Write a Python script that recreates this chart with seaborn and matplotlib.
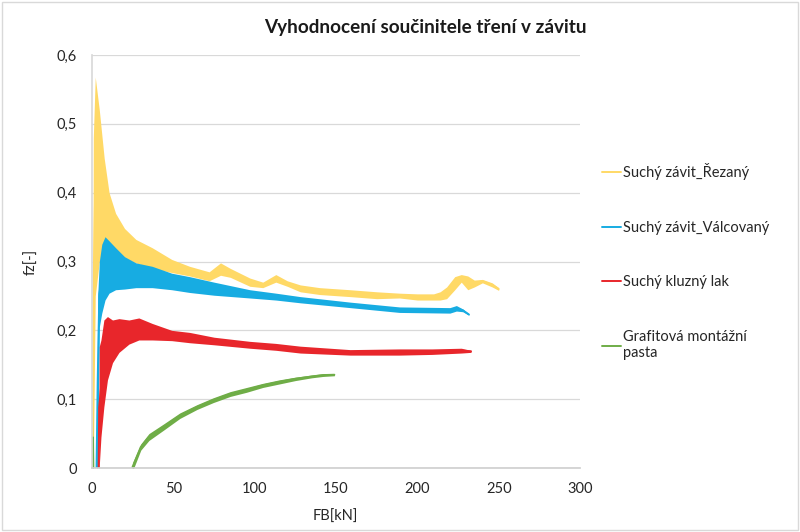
import numpy as np
import pandas as pd
import matplotlib
matplotlib.use("Agg")
from matplotlib import pyplot as plt
from matplotlib.patches import Rectangle
import seaborn as sns

rez_fb = [0.3, 0.8, 2.0, 4.5, 7.5, 10.5, 14.5, 20, 27, 37, 49, 60, 72, 79, 85, 97, 105,
          113, 120, 128, 140, 158.6, 175, 189, 200, 210, 214, 218, 223, 227, 231, 235,
          240, 246, 250]
rez_hi = [0.0, 0.48, 0.568, 0.52, 0.45, 0.40, 0.37, 0.348, 0.332, 0.32, 0.303, 0.293,
          0.285, 0.298, 0.29, 0.276, 0.27, 0.281, 0.272, 0.266, 0.262, 0.259, 0.256,
          0.254, 0.253, 0.253, 0.256, 0.263, 0.278, 0.281, 0.279, 0.273, 0.274, 0.269,
          0.262]
rez_lo = [0.0, 0.0, 0.25, 0.30, 0.31, 0.315, 0.31, 0.305, 0.298, 0.29, 0.284, 0.279,
          0.272, 0.28, 0.277, 0.264, 0.262, 0.27, 0.264, 0.256, 0.252, 0.249, 0.246,
          0.247, 0.244, 0.244, 0.244, 0.246, 0.259, 0.27, 0.259, 0.263, 0.269, 0.263,
          0.258]

val_fb = [2.8, 3.5, 4.5, 6, 8, 10.5, 14.5, 20, 27, 37, 49, 60, 75, 97, 113, 128, 158.6,
          189, 220, 224, 228, 231.7]
val_hi = [0.0, 0.25, 0.30, 0.325, 0.336, 0.33, 0.32, 0.307, 0.298, 0.293, 0.283, 0.278,
          0.27, 0.259, 0.254, 0.249, 0.241, 0.234, 0.233, 0.236, 0.231, 0.224]
val_lo = [0.0, 0.0, 0.205, 0.225, 0.244, 0.254, 0.259, 0.26, 0.262, 0.262, 0.259, 0.255,
          0.251, 0.247, 0.244, 0.24, 0.233, 0.226, 0.225, 0.228, 0.227, 0.222]

lak_fb = [4.1, 4.4, 5.5, 7.3, 9.5, 12.6, 16.6, 22.7, 28.8, 37, 49, 60, 75, 97, 113, 128,
          158.6, 189, 209, 227, 233]
lak_hi = [0.0, 0.176, 0.186, 0.215, 0.22, 0.215, 0.217, 0.215, 0.218, 0.21, 0.2, 0.197,
          0.19, 0.184, 0.181, 0.177, 0.172, 0.173, 0.173, 0.174, 0.171]
lak_lo = [0.0, 0.0, 0.045, 0.089, 0.128, 0.153, 0.168, 0.18, 0.186, 0.186, 0.185, 0.182,
          0.179, 0.174, 0.171, 0.167, 0.164, 0.164, 0.165, 0.167, 0.168]

pasta_fb = [0.3, 0.6, 1.0, 23.5, 25, 30, 35, 44, 54, 64.5, 74.5, 85, 95, 105, 115, 125,
            135, 142, 149]
pasta_hi = [0.0, 0.089, -0.03, -0.03, 0.008, 0.035, 0.05, 0.064, 0.08, 0.092, 0.102,
            0.111, 0.117, 0.123, 0.128, 0.132, 0.135, 0.137, 0.137]
pasta_lo = [0.0, 0.0, -0.03, -0.03, -0.004, 0.026, 0.04, 0.055, 0.072, 0.085, 0.095,
            0.104, 0.110, 0.117, 0.122, 0.127, 0.131, 0.133, 0.134]

labels = ["Suchý závit_Řezaný", "Suchý závit_Válcovaný", "Suchý kluzný lak",
          "Grafitová montážní\npasta"]
colors = ["#FFD966", "#17ACE2", "#E8262B", "#6FAD47"]

y_ticks = [0, 0.1, 0.2, 0.3, 0.4, 0.5, 0.6]
y_ticklabels = ["0", "0,1", "0,2", "0,3", "0,4", "0,5", "0,6"]
x_ticks = [0, 50, 100, 150, 200, 250, 300]

rows = []
for lab, fb, lo, hi in zip(labels,
                           [rez_fb, val_fb, lak_fb, pasta_fb],
                           [rez_lo, val_lo, lak_lo, pasta_lo],
                           [rez_hi, val_hi, lak_hi, pasta_hi]):
    for f, a, b in zip(fb, lo, hi):
        rows.append((lab, f, a))
        rows.append((lab, f, b))
df = pd.DataFrame(rows, columns=["serie", "FB", "fz"])

sns.set_theme(style="white")
plt.rcParams["font.family"] = ["Lato", "DejaVu Sans"]

fig = plt.figure(figsize=(8, 5.32), dpi=100)
ax = fig.add_axes([0.115, 0.1203, 0.61, 0.7763])

# min-max band of the two envelope rows per force value
sns.lineplot(data=df, x="FB", y="fz", hue="serie", hue_order=labels,
             palette=dict(zip(labels, colors)), estimator="mean",
             errorbar=("pi", 100), err_kws={"alpha": 1, "linewidth": 0},
             linewidth=1.4, ax=ax)

ax.set_xlim(0, 300)
ax.set_ylim(0, 0.6)
ax.set_xticks(x_ticks)
ax.set_yticks(y_ticks)
ax.set_yticklabels(y_ticklabels)
ax.tick_params(length=0, labelsize=10.5, labelcolor="#262626")
ax.tick_params(axis="y", pad=11)
ax.tick_params(axis="x", pad=10)
ax.set_xlabel("")
ax.set_ylabel("")
ax.grid(axis="y", color="#d9d9d9", linewidth=0.9)
for side in ["top", "right"]:
    ax.spines[side].set_visible(False)
ax.spines["left"].set_color("#d9d9d9")
ax.spines["bottom"].set_color("#d0d0d0")

fig.text(32 / 800, 1 - 262 / 532, "fz[-]", rotation=90, ha="center", va="center",
         fontsize=10.5, color="#262626")
fig.text(335 / 800, 1 - 517 / 532, "FB[kN]", ha="center", va="center",
         fontsize=10.5, color="#262626")
fig.text(425 / 800, 1 - 28 / 532, "Vyhodnocení součinitele tření v závitu",
         ha="center", va="center", fontsize=13.6, fontweight="bold", color="#1a1a1a")

sns.move_legend(ax, "upper left", bbox_to_anchor=(0.745, 0.705),
                bbox_transform=fig.transFigure, frameon=False, title=None,
                fontsize=10.5, labelspacing=2.8, handlelength=1.3,
                handletextpad=0.15, borderaxespad=0)

fig.patches.append(Rectangle((0.002, 0.003), 0.995, 0.994, transform=fig.transFigure,
                             fill=False, edgecolor="#d9d9d9", linewidth=1))

fig.savefig("out.png", dpi=100)
